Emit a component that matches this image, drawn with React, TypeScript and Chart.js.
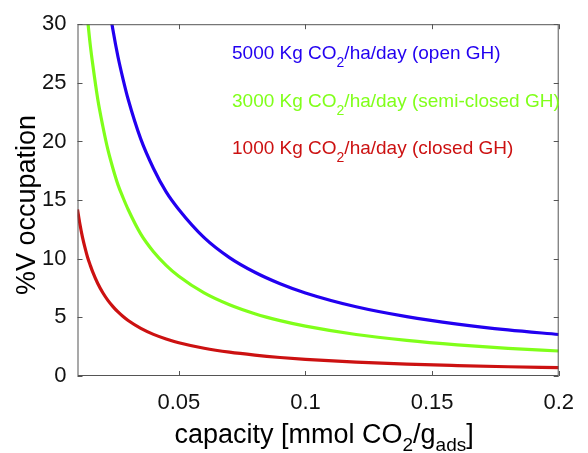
import React, { useEffect, useRef } from "react";
import { Chart, registerables } from "chart.js";

Chart.register(...registerables);

const capacity = [0.010, 0.011, 0.012, 0.013, 0.014, 0.015, 0.016, 0.018, 0.020, 0.022, 0.024, 0.026, 0.028, 0.030, 0.035, 0.040, 0.045, 0.050, 0.060, 0.070, 0.080, 0.090, 0.100, 0.120, 0.140, 0.160, 0.180, 0.200];

const open5000 = [70.8, 64.4, 59.0, 54.5, 50.6, 47.2, 44.3, 39.3, 35.4, 32.2, 29.5, 27.2, 25.3, 23.6, 20.2, 17.7, 15.7, 14.2, 11.8, 10.1, 8.85, 7.87, 7.08, 5.90, 5.06, 4.43, 3.93, 3.54];
const semi3000 = [42.5, 38.6, 35.4, 32.7, 30.4, 28.3, 26.6, 23.6, 21.3, 19.3, 17.7, 16.3, 15.2, 14.2, 12.1, 10.6, 9.44, 8.50, 7.08, 6.07, 5.31, 4.72, 4.25, 3.54, 3.04, 2.66, 2.36, 2.13];
const closed1000 = [14.2, 12.9, 11.8, 10.9, 10.1, 9.47, 8.88, 7.89, 7.10, 6.45, 5.92, 5.46, 5.07, 4.73, 4.06, 3.55, 3.16, 2.84, 2.37, 2.03, 1.78, 1.58, 1.42, 1.18, 1.01, 0.89, 0.79, 0.71];

const xTicks = [0.05, 0.1, 0.15, 0.2];
const xTickLabels = ["0.05", "0.1", "0.15", "0.2"];
const yTicks = [0, 5, 10, 15, 20, 25, 30];

const BLUE = "#2200f0";
const GREEN = "#80ff1a";
const RED = "#cc1111";

const legendItems = [
  { pre: "5000 Kg CO", post: "/ha/day (open GH)", color: BLUE },
  { pre: "3000 Kg CO", post: "/ha/day (semi-closed GH)", color: GREEN },
  { pre: "1000 Kg CO", post: "/ha/day (closed GH)", color: RED },
];

const FONT = "Arial, 'Liberation Sans', Helvetica, sans-serif";

const decorPlugin = {
  id: "decor",
  afterDraw(chart: any) {
    const ctx = chart.ctx as CanvasRenderingContext2D;
    const { left, right, top, bottom } = chart.chartArea;
    const xs = chart.scales.x;
    const ys = chart.scales.y;
    ctx.save();
    // box
    ctx.strokeStyle = "#555555";
    ctx.lineWidth = 1;
    ctx.strokeRect(left + 0.5, top + 0.5, right - left - 1, bottom - top - 1);
    // inward ticks
    const tl = 5;
    ctx.beginPath();
    xTicks.forEach((v) => {
      const px = Math.round(xs.getPixelForValue(v)) + 0.5;
      ctx.moveTo(px, bottom);
      ctx.lineTo(px, bottom - tl);
      ctx.moveTo(px, top);
      ctx.lineTo(px, top + tl);
    });
    yTicks.forEach((v) => {
      const py = Math.round(ys.getPixelForValue(v)) + 0.5;
      ctx.moveTo(left, py);
      ctx.lineTo(left + tl, py);
      ctx.moveTo(right, py);
      ctx.lineTo(right - tl, py);
    });
    ctx.stroke();

    // legend texts
    const mainF = `19px ${FONT}`;
    const subF = `14px ${FONT}`;
    const legendY = [59, 107, 154];
    legendItems.forEach((it, i) => {
      let x = 232;
      const y = legendY[i];
      ctx.fillStyle = it.color;
      ctx.textBaseline = "alphabetic";
      ctx.textAlign = "left";
      ctx.font = mainF;
      ctx.fillText(it.pre, x, y);
      x += ctx.measureText(it.pre).width;
      ctx.font = subF;
      ctx.fillText("2", x, y + 8);
      x += ctx.measureText("2").width;
      ctx.font = mainF;
      ctx.fillText(it.post, x, y);
    });

    // x title
    const tF = `27px ${FONT}`;
    const tsF = `19px ${FONT}`;
    const parts = [
      { t: "capacity [mmol CO", f: tF, dy: 0 },
      { t: "2", f: tsF, dy: 8 },
      { t: "/g", f: tF, dy: 0 },
      { t: "ads", f: tsF, dy: 8 },
      { t: "]", f: tF, dy: 0 },
    ];
    let total = 0;
    parts.forEach((p) => {
      ctx.font = p.f;
      total += ctx.measureText(p.t).width;
    });
    let x0 = (left + right) / 2 - total / 2 + 6;
    const baseY = 443;
    ctx.fillStyle = "#000000";
    parts.forEach((p) => {
      ctx.font = p.f;
      ctx.fillText(p.t, x0, baseY + p.dy);
      x0 += ctx.measureText(p.t).width;
    });

    // y title
    ctx.save();
    ctx.translate(28, 205);
    ctx.rotate(-Math.PI / 2);
    ctx.font = `27px ${FONT}`;
    ctx.textAlign = "center";
    ctx.textBaseline = "middle";
    ctx.fillText("%V occupation", 0, 0);
    ctx.restore();

    ctx.restore();
  },
};

export default function App() {
  const ref = useRef<HTMLCanvasElement | null>(null);
  useEffect(() => {
    if (!ref.current) return;
    const mk = (label: string, data: number[], color: string) => ({
      label,
      data: capacity.map((c, i) => ({ x: c, y: data[i] })),
      borderColor: color,
      backgroundColor: color,
      borderWidth: 3.2,
      pointRadius: 0,
      cubicInterpolationMode: "monotone" as const,
      fill: false,
    });
    const chart = new Chart(ref.current, {
      type: "line",
      data: {
        datasets: [
          mk("5000", open5000, BLUE),
          mk("3000", semi3000, GREEN),
          mk("1000", closed1000, RED),
        ],
      },
      options: {
        animation: false,
        responsive: true,
        maintainAspectRatio: false,
        layout: { padding: { top: 20, right: 16, left: 0, bottom: 0 } },
        plugins: { legend: { display: false }, tooltip: { enabled: false } },
        scales: {
          x: {
            type: "linear",
            min: 0.01,
            max: 0.2,
            grid: { display: false, drawTicks: false },
            border: { display: false },
            afterBuildTicks: (s: any) => {
              s.ticks = xTicks.map((v) => ({ value: v }));
            },
            afterFit: (s: any) => {
              s.height = 77;
            },
            ticks: {
              autoSkip: false,
              maxRotation: 0,
              padding: 14,
              color: "#111111",
              font: { family: FONT, size: 22 },
              callback: (v: any) => {
                const i = xTicks.findIndex((t) => Math.abs(t - Number(v)) < 1e-9);
                return i >= 0 ? xTickLabels[i] : "";
              },
            },
          },
          y: {
            type: "linear",
            min: 0,
            max: 30,
            grid: { display: false, drawTicks: false },
            border: { display: false },
            afterBuildTicks: (s: any) => {
              s.ticks = yTicks.map((v) => ({ value: v }));
            },
            afterFit: (s: any) => {
              s.width = 77.5;
            },
            ticks: {
              autoSkip: false,
              padding: 11,
              color: "#111111",
              font: { family: FONT, size: 22 },
              callback: (v: any) => String(v),
            },
          },
        },
      },
      plugins: [decorPlugin],
    });
    return () => chart.destroy();
  }, []);
  return (
    <div style={{ position: "absolute", left: 0, top: 0, width: 588, height: 453, background: "#fff" }}>
      <canvas ref={ref} />
    </div>
  );
}
